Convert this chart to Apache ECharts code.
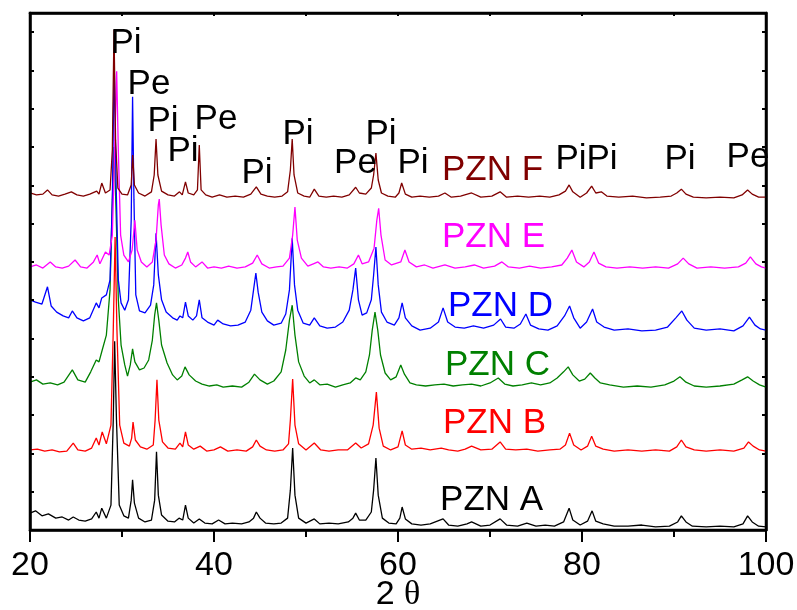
<!DOCTYPE html>
<html>
<head>
<meta charset="utf-8">
<title>XRD patterns PZN A-F</title>
<script src="https://cdn.jsdelivr.net/npm/echarts@6/dist/echarts.min.js"></script>
<style>
  html, body { margin: 0; padding: 0; background: #fff; }
  #chart { width: 797px; height: 610px; }
</style>
</head>
<body>
<div id="chart"></div>
<script>
// Stacked diffraction patterns: [2θ (deg), offset intensity (a.u.)]
const pznA = [
  [20.0,44],[20.6,50],[21.3,37],[22.0,42],[22.8,31],[23.5,34],[24.2,26],[24.7,34],[25.3,26],[26.0,23],
  [26.7,29],[27.2,47],[27.5,31],[27.8,57],[28.3,31],[28.8,65],[29.05,287],[29.2,493],[29.4,287],[29.7,65],
  [30.2,37],[30.7,31],[31.0,78],[31.15,131],[31.35,70],[31.8,31],[32.5,21],[33.2,26],[33.55,78],[33.75,204],
  [33.95,91],[34.3,39],[35.0,23],[35.7,21],[36.2,31],[36.6,26],[36.9,65],[37.2,31],[37.8,18],[38.4,29],
  [39.0,18],[39.8,16],[40.5,26],[41.2,16],[42.0,18],[43.0,16],[43.8,21],[44.3,31],[44.6,47],[45.0,31],
  [45.6,18],[46.5,16],[47.3,18],[48.0,31],[48.3,104],[48.55,214],[48.8,91],[49.2,31],[50.0,18],[50.9,29],
  [51.5,16],[52.5,18],[53.5,16],[54.6,21],[55.1,31],[55.4,44],[55.8,26],[56.5,26],[57.1,47],[57.35,104],
  [57.6,188],[57.85,91],[58.3,31],[59.0,18],[59.8,16],[60.2,31],[60.45,60],[60.8,29],[61.5,16],[62.5,13],
  [63.5,16],[64.9,29],[65.5,13],[66.5,10],[67.5,16],[68.0,21],[69.0,10],[70.0,13],[71.1,29],[71.8,13],
  [73.0,10],[74.0,18],[75.0,10],[76.0,13],[77.0,10],[78.0,21],[78.6,57],[79.0,26],[79.8,13],[80.6,23],
  [81.1,50],[81.5,23],[82.3,16],[83.5,10],[85.0,10],[86.5,13],[88.0,8],[89.5,10],[90.4,21],[90.8,37],
  [91.3,21],[92.0,10],[93.5,8],[95.0,10],[96.5,8],[97.5,16],[98.0,37],[98.5,21],[99.2,10],[100.0,8]
];
const pznB = [
  [20.0,209],[20.8,211],[21.6,206],[22.4,209],[23.2,204],[24.0,206],[24.7,227],[25.2,209],[26.0,206],[26.7,214],
  [27.2,240],[27.5,222],[27.85,256],[28.3,225],[28.8,274],[29.05,522],[29.25,765],[29.45,522],[29.75,274],[30.2,227],
  [30.8,219],[31.05,240],[31.2,282],[31.45,235],[32.0,217],[32.7,211],[33.4,222],[33.6,287],[33.8,392],[34.0,287],
  [34.4,230],[35.0,214],[35.8,211],[36.3,227],[36.6,217],[36.9,256],[37.2,222],[37.8,211],[38.5,219],[39.2,206],
  [40.0,209],[40.7,217],[41.5,206],[42.5,209],[43.5,206],[44.2,217],[44.6,235],[45.0,219],[45.7,209],[46.6,206],
  [47.5,209],[48.1,225],[48.3,287],[48.55,394],[48.8,274],[49.2,225],[50.0,209],[50.9,227],[51.6,209],[52.5,206],
  [53.5,209],[54.5,209],[55.4,227],[56.0,214],[56.8,225],[57.3,274],[57.65,360],[57.95,266],[58.4,219],[59.2,209],
  [60.0,217],[60.45,259],[60.8,222],[61.5,211],[62.5,214],[63.5,209],[64.7,214],[65.5,209],[66.5,206],[67.3,211],
  [68.0,219],[69.0,209],[70.2,211],[71.1,230],[71.7,211],[72.8,209],[74.0,211],[75.2,206],[76.5,209],[77.6,211],
  [78.2,222],[78.65,253],[79.1,222],[79.9,209],[80.6,219],[81.05,245],[81.5,219],[82.3,211],[83.5,206],[85.0,209],
  [86.5,206],[88.0,209],[89.5,206],[90.3,217],[90.8,235],[91.3,217],[92.2,209],[93.5,206],[95.0,209],[96.5,206],
  [97.6,214],[98.1,230],[98.6,219],[99.3,209],[100.0,206]
];
const pznC = [
  [20.0,386],[20.7,392],[21.4,381],[22.2,384],[23.0,379],[23.7,386],[24.6,418],[25.2,392],[26.0,386],[26.6,413],
  [27.2,444],[27.5,439],[27.85,470],[28.3,509],[28.7,627],[28.95,862],[29.15,1000],[29.35,836],[29.6,601],[29.9,483],
  [30.3,431],[30.6,402],[30.9,431],[31.15,473],[31.4,439],[31.9,418],[32.4,423],[32.9,444],[33.3,496],[33.55,561],
  [33.75,593],[34.0,548],[34.3,483],[34.9,436],[35.5,405],[36.0,392],[36.5,402],[36.85,426],[37.3,405],[38.0,389],
  [38.7,381],[39.5,376],[40.3,379],[41.0,373],[42.0,376],[43.0,373],[43.8,386],[44.4,407],[45.0,392],[45.8,381],
  [46.5,389],[47.3,413],[47.8,470],[48.2,548],[48.5,587],[48.8,509],[49.2,439],[49.8,402],[50.4,384],[50.9,392],
  [51.5,379],[52.3,381],[53.2,373],[54.0,379],[54.8,384],[55.4,397],[55.9,392],[56.5,413],[56.9,457],[57.2,522],
  [57.5,569],[57.8,522],[58.1,457],[58.6,410],[59.2,392],[59.8,400],[60.3,431],[60.7,407],[61.3,384],[62.0,379],
  [63.0,376],[64.0,379],[65.0,381],[66.0,376],[67.0,379],[68.0,381],[69.0,376],[70.0,384],[70.9,397],[71.6,381],
  [72.5,376],[73.5,379],[74.5,384],[75.5,379],[76.5,384],[77.3,397],[78.0,413],[78.5,426],[79.0,405],[79.7,389],
  [80.3,394],[80.9,410],[81.4,397],[82.0,384],[83.0,379],[84.5,373],[86.0,376],[87.5,373],[89.0,379],[90.0,389],
  [90.65,400],[91.3,386],[92.2,376],[93.5,373],[95.0,376],[96.5,381],[97.4,392],[98.0,400],[98.6,389],[99.3,379],
  [100.0,373]
];
const pznD = [
  [20.0,601],[20.6,595],[21.3,590],[21.9,635],[22.3,585],[22.9,569],[23.6,559],[24.2,554],[24.6,572],[25.1,554],
  [25.8,546],[26.5,554],[27.2,593],[27.5,580],[27.8,606],[28.3,614],[28.7,653],[28.95,862],[29.15,1232],[29.35,914],
  [29.6,653],[29.9,593],[30.3,574],[30.7,601],[31.0,809],[31.15,1131],[31.3,862],[31.5,614],[31.9,572],[32.5,567],
  [33.1,587],[33.45,640],[33.7,775],[33.95,666],[34.3,601],[34.8,569],[35.5,554],[36.0,548],[36.3,559],[36.6,554],
  [36.9,595],[37.2,559],[37.7,548],[38.1,559],[38.4,601],[38.7,554],[39.3,543],[40.0,535],[40.4,548],[41.0,538],
  [41.8,533],[42.6,535],[43.4,543],[44.0,574],[44.3,627],[44.55,671],[44.8,621],[45.2,569],[45.8,546],[46.5,535],
  [47.3,540],[47.8,564],[48.2,627],[48.5,762],[48.75,640],[49.1,574],[49.7,540],[50.4,535],[50.9,554],[51.5,533],
  [52.3,527],[53.2,530],[54.0,543],[54.7,574],[55.1,627],[55.4,684],[55.7,601],[56.1,561],[56.6,567],[57.1,601],
  [57.35,666],[57.6,739],[57.85,640],[58.2,569],[58.8,543],[59.6,535],[60.1,554],[60.45,593],[60.8,554],[61.5,533],
  [62.4,522],[63.5,527],[64.4,543],[64.9,580],[65.4,543],[66.2,530],[67.2,527],[68.2,533],[69.3,527],[70.4,535],
  [71.15,551],[71.7,530],[72.6,527],[73.3,538],[73.9,564],[74.4,535],[75.3,525],[76.3,522],[77.3,533],[78.1,559],
  [78.65,585],[79.1,554],[79.8,527],[80.5,543],[81.15,577],[81.6,543],[82.4,530],[83.5,522],[85.0,525],[86.5,520],
  [88.0,522],[89.3,530],[90.2,554],[90.85,572],[91.4,548],[92.2,527],[93.5,522],[95.0,525],[96.5,520],[97.5,533],
  [98.2,556],[98.8,535],[99.4,525],[100.0,522]
];
const pznE = [
  [20.0,687],[20.7,692],[21.4,684],[22.2,700],[22.8,687],[23.5,684],[24.2,689],[24.9,705],[25.5,687],[26.2,684],
  [26.9,700],[27.3,718],[27.6,695],[28.2,726],[28.6,718],[28.95,770],[29.2,992],[29.42,1198],[29.6,992],[29.85,770],
  [30.2,718],[30.7,700],[31.1,731],[31.4,809],[31.65,731],[32.1,700],[32.7,687],[33.3,700],[33.7,757],[33.95,849],
  [34.05,864],[34.25,796],[34.6,718],[35.1,695],[35.8,684],[36.5,692],[36.9,710],[37.15,726],[37.45,700],[38.0,687],
  [38.7,700],[39.3,684],[40.0,687],[40.8,684],[41.6,689],[42.5,684],[43.4,687],[44.2,697],[44.7,718],[45.2,695],
  [46.0,684],[46.8,687],[47.5,689],[48.2,710],[48.55,770],[48.8,843],[49.05,757],[49.5,710],[50.2,689],[50.8,695],
  [51.3,700],[51.9,687],[52.7,684],[53.6,687],[54.5,684],[55.2,695],[55.7,718],[56.1,695],[56.8,700],[57.4,736],
  [57.7,809],[57.9,840],[58.15,770],[58.6,705],[59.3,692],[60.3,700],[60.75,731],[61.2,700],[62.0,687],[62.9,692],
  [63.8,684],[65.1,692],[66.2,684],[67.3,687],[68.3,692],[69.3,684],[70.5,689],[71.3,700],[72.0,687],[73.2,684],
  [74.3,689],[75.5,684],[76.7,687],[77.8,692],[78.4,710],[78.9,731],[79.4,700],[80.2,687],[80.8,700],[81.3,726],
  [81.8,697],[82.6,687],[83.8,684],[85.2,687],[86.6,684],[88.0,687],[89.4,684],[90.4,695],[91.0,710],[91.6,695],
  [92.5,684],[94.0,687],[95.5,684],[97.0,687],[97.8,697],[98.3,713],[98.9,695],[99.5,687],[100.0,684]
];
const pznF = [
  [20.0,880],[20.7,875],[21.4,877],[21.9,888],[22.4,875],[23.1,872],[23.8,877],[24.5,883],[25.1,875],[25.8,872],
  [26.5,877],[27.25,885],[27.5,877],[27.8,906],[28.2,880],[28.7,888],[28.95,992],[29.13,1306],[29.3,1018],[29.55,893],
  [30.0,877],[30.6,875],[31.0,901],[31.16,979],[31.35,901],[31.8,880],[32.5,872],[33.2,883],[33.5,927],[33.7,1021],
  [33.9,927],[34.3,885],[35.0,875],[35.7,872],[36.25,883],[36.55,875],[36.9,909],[37.2,880],[37.8,875],[38.2,888],
  [38.4,1005],[38.6,888],[39.1,875],[39.8,869],[40.6,875],[41.4,869],[42.3,872],[43.2,869],[44.0,877],[44.6,896],
  [45.1,877],[45.8,872],[46.6,869],[47.4,872],[48.0,883],[48.3,940],[48.5,1021],[48.7,927],[49.1,880],[49.8,872],
  [50.4,869],[50.9,890],[51.4,872],[52.2,869],[53.0,872],[53.9,869],[54.7,875],[55.4,895],[55.8,880],[56.5,877],
  [57.1,893],[57.35,927],[57.6,984],[57.85,914],[58.2,880],[58.9,872],[59.7,869],[60.1,880],[60.4,906],[60.8,877],
  [61.5,869],[62.4,872],[63.4,869],[64.4,872],[65.1,880],[65.8,869],[66.8,872],[68.0,880],[69.0,869],[70.2,872],
  [71.1,883],[71.8,869],[73.0,872],[74.2,869],[75.4,872],[76.5,869],[77.5,875],[78.2,885],[78.6,901],[79.0,883],
  [79.8,869],[80.5,880],[81.05,898],[81.5,880],[82.1,883],[82.7,872],[84.0,869],[85.5,872],[87.0,867],[88.5,869],
  [89.7,872],[90.3,880],[90.8,890],[91.3,877],[92.1,869],[93.5,867],[95.0,869],[96.5,867],[97.4,875],[98.0,888],
  [98.5,877],[99.2,869],[100.0,869]
];

// Phase markers (Pi = pyrochlore, Pe = perovskite): [2θ, height, text]
const phaseMarks = [
  [30.43,1270,'Pi'],[32.93,1163,'Pe'],[34.46,1067,'Pi'],[36.63,988,'Pi'],[40.22,1073,'Pe'],
  [44.67,931,'Pi'],[49.13,1033,'Pi'],[55.38,957,'Pe'],[58.15,1033,'Pi'],[61.63,957,'Pi'],
  [78.80,969,'Pi'],[82.17,969,'Pi'],[90.65,969,'Pi'],[98.04,973,'Pe']
];

// Sample names, placed at [2θ, height]
const sampleNames = ['PZN A','PZN B','PZN C','PZN D','PZN E','PZN F'];
const sampleNamePos = [[64.57,77],[64.89,278],[65.11,431],[65.43,583],[64.78,765],[64.78,940]];
const sampleColors = ['#000000','#ff0000','#008000','#0000ff','#ff00ff','#800000'];
const patterns = [pznA, pznB, pznC, pznD, pznE, pznF];

const xTicks = [20, 40, 60, 80, 100];

const FONT = 'Liberation Sans, Arial, sans-serif';
const chart = echarts.init(document.getElementById('chart'), null, { renderer: 'canvas' });

const lineSeries = patterns.map((data, i) => ({
  name: sampleNames[i],
  type: 'line',
  data: data,
  showSymbol: false,
  symbol: 'none',
  lineStyle: { color: sampleColors[i], width: 1.3 },
  z: 2 + i,
  silent: true
}));

const labelText = {
  fontSize: 35,
  fontFamily: FONT,
  opacity: 1,
  textBorderWidth: 0
};

const markSeries = {
  type: 'scatter',
  symbolSize: 0,
  silent: true,
  z: 20,
  itemStyle: { opacity: 1 },
  data: phaseMarks.map(m => ({ value: [m[0], m[1]], name: m[2] })),
  label: Object.assign({
    show: true,
    position: [0, 0],
    align: 'center',
    verticalAlign: 'middle',
    formatter: p => p.name,
    color: '#000000'
  }, labelText)
};

const nameSeries = {
  type: 'scatter',
  symbolSize: 0,
  silent: true,
  z: 20,
  itemStyle: { opacity: 1 },
  data: sampleNames.map((n, i) => ({
    value: sampleNamePos[i], name: n,
    label: { color: sampleColors[i] }
  })),
  label: Object.assign({
    show: true,
    position: [0, 0],
    align: 'left',
    verticalAlign: 'middle',
    formatter: p => p.name
  }, labelText)
};

function frameLine() {
  return { show: true, onZero: false, lineStyle: { color: '#000000', width: 2.5 } };
}
function tickStyle() {
  return { color: '#000000', width: 2 };
}

chart.setOption({
  animation: false,
  backgroundColor: '#ffffff',
  grid: {
    left: 30, right: 31, top: 13, bottom: 80,
    outerBoundsMode: 'none',
    show: true, borderColor: '#000000', borderWidth: 2.5
  },
  xAxis: [
    {
      type: 'value', min: 20, max: 100, interval: 20, position: 'bottom', z: 30,
      axisLine: frameLine(),
      axisTick: { show: true, inside: false, length: 12, lineStyle: tickStyle() },
      minorTick: { show: true, splitNumber: 2, length: 7, lineStyle: tickStyle() },
      axisLabel: {
        show: true, color: '#000000', fontSize: 34, fontFamily: FONT, margin: 19,
        formatter: v => (xTicks.indexOf(v) >= 0 ? String(v) : '')
      },
      splitLine: { show: false },
      name: '{a|2 }{b|θ}',
      nameLocation: 'middle',
      nameGap: 48,
      nameMoveOverlap: false,
      nameTextStyle: {
        rich: {
          a: { fontSize: 34, fontFamily: FONT, color: '#000000' },
          b: { fontSize: 34, fontFamily: 'Liberation Serif, DejaVu Serif, serif', color: '#000000' }
        }
      }
    },
    {
      type: 'value', min: 20, max: 100, interval: 10, position: 'top', z: 30,
      axisLine: frameLine(),
      axisTick: { show: true, inside: true, length: 3, lineStyle: tickStyle() },
      axisLabel: { show: false },
      splitLine: { show: false }
    }
  ],
  yAxis: [
    {
      type: 'value', min: 0, max: 1350, interval: 100, position: 'left', z: 30,
      axisLine: frameLine(),
      axisTick: { show: true, inside: true, length: 4, lineStyle: tickStyle() },
      axisLabel: { show: false },
      splitLine: { show: false }
    },
    {
      type: 'value', min: 0, max: 1350, interval: 100, position: 'right', z: 30,
      axisLine: frameLine(),
      axisTick: { show: true, inside: true, length: 4, lineStyle: tickStyle() },
      axisLabel: { show: false },
      splitLine: { show: false }
    }
  ],
  series: [...lineSeries, markSeries, nameSeries]
});
</script>
</body>
</html>
